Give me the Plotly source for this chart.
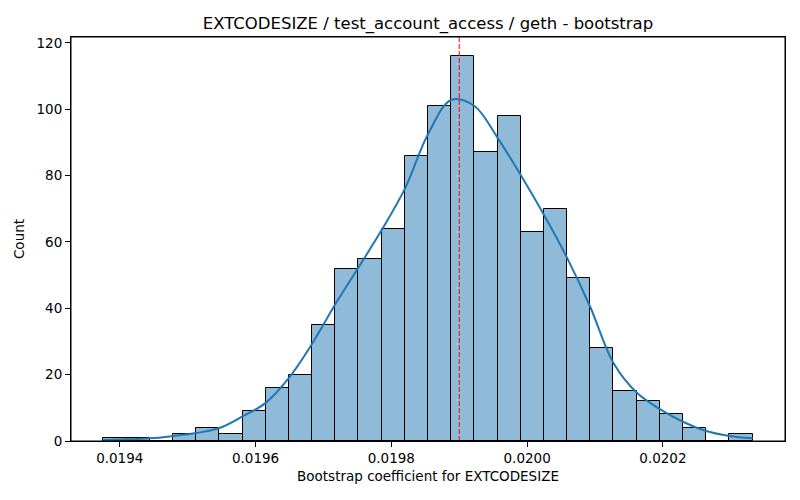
import numpy as np
import plotly.graph_objects as go

# bootstrap histogram (28 bins between min and max of the samples)
data_min = 0.019376
data_max = 0.020332
counts = [1, 1, 0, 2, 4, 2, 9, 16, 20, 35, 52, 55, 64, 86,
          101, 116, 87, 98, 63, 70, 49, 28, 15, 12, 8, 4, 0, 2]

# kde curve read at the bin edges (in counts)
kde_counts = [0.3, 0.5, 0.8, 1.5, 2.4, 3.9, 7.4, 11.5, 19.0, 29.3, 41.2, 52.3,
              63.6, 76.0, 92.5, 102.8, 101.0, 91.4, 80.2, 68.2, 55.2, 40.4,
              23.5, 14.6, 9.6, 5.8, 3.0, 1.5, 0.8]

point_estimate = 0.01990
x_ticks = [0.0194, 0.0196, 0.0198, 0.0200, 0.0202]
y_ticks = [0, 20, 40, 60, 80, 100, 120]

edges = np.linspace(data_min, data_max, len(counts) + 1)
centers = (edges[:-1] + edges[1:]) / 2
bin_w = edges[1] - edges[0]

fig = go.Figure()
fig.add_trace(go.Bar(x=centers, y=counts, width=bin_w,
                     marker=dict(color="rgba(31,119,180,0.5)",
                                 line=dict(color="black", width=1)),
                     showlegend=False, hoverinfo="x+y"))
fig.add_trace(go.Scatter(x=edges, y=kde_counts, mode="lines",
                         line=dict(color="#1f77b4", width=2, shape="spline"),
                         showlegend=False))
fig.add_shape(type="line", x0=point_estimate, x1=point_estimate, y0=0, y1=1,
              xref="x", yref="paper", layer="above",
              line=dict(color="red", width=1, dash="5px,2px"))
# axes frame (matplotlib style box)
fig.add_shape(type="rect", xref="paper", yref="paper", x0=0, y0=0, x1=1, y1=1,
              layer="above", line=dict(color="black", width=1))

pad = (data_max - data_min) * 0.05
axis_style = dict(showline=True, mirror=True, linecolor="black", linewidth=1,
                  ticks="outside", ticklen=5, tickcolor="black",
                  showgrid=False, zeroline=False,
                  tickfont=dict(size=13.5, color="black"))

fig.update_xaxes(range=[data_min - pad, data_max + pad], tickvals=x_ticks,
                 ticktext=["%.4f" % t for t in x_ticks],
                 title=dict(text="Bootstrap coefficient for EXTCODESIZE",
                            font=dict(size=13.5, color="black"), standoff=6),
                 **axis_style)
fig.update_yaxes(range=[0, max(counts) * 1.05], tickvals=y_ticks,
                 title=dict(text="Count", font=dict(size=13.5, color="black"),
                            standoff=8),
                 **axis_style)

fig.update_layout(
    width=800, height=500,
    margin=dict(l=71, r=15, t=37, b=59),
    paper_bgcolor="white", plot_bgcolor="white",
    font=dict(family="DejaVu Sans", color="black"),
    title=dict(text="EXTCODESIZE / test_account_access / geth - bootstrap",
               x=0.5, xref="paper", y=1 - 23 / 500, yref="container",
               yanchor="middle", font=dict(size=16.5, color="black")),
    bargap=0,
)

# page margin would shift the plot by 8px
fig.write_html("out.html", config={"displayModeBar": False},
               post_script="document.body.style.margin='0';")
